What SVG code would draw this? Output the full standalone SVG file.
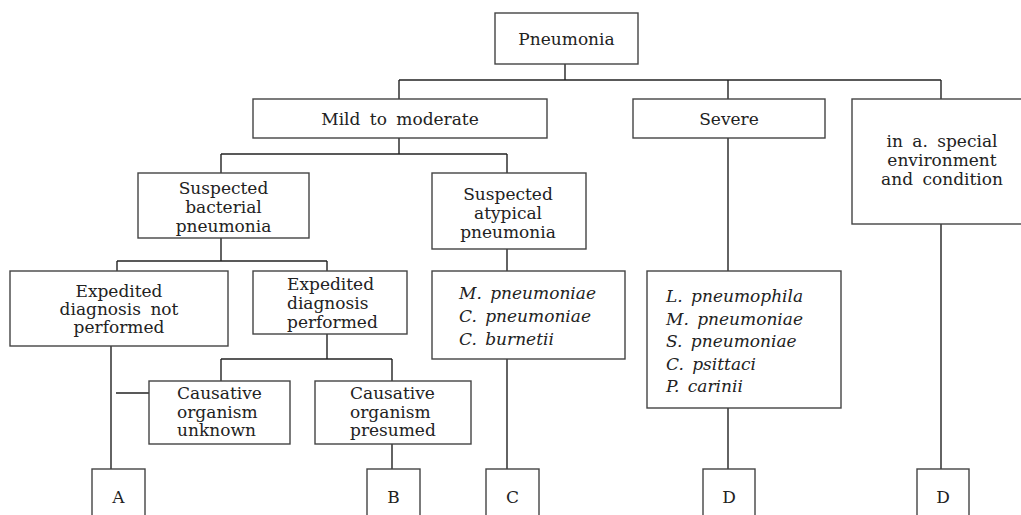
<svg xmlns="http://www.w3.org/2000/svg" width="1021" height="515" viewBox="0 0 1021 515">
<style>
rect{fill:#fff;stroke:#444;stroke-width:1.4}
.c line{stroke:#222;stroke-width:1.4}
text{font-family:"DejaVu Serif","Liberation Serif",serif;font-size:17px;fill:#222;word-spacing:4px}
.m{text-anchor:middle}
.i{font-style:italic;word-spacing:3px}
</style>
<rect x="-1" y="-1" width="1023" height="517" style="stroke:none;fill:#fff"/>
<g class="c">
<line x1="565" y1="64" x2="565" y2="80"/>
<line x1="399" y1="80" x2="941" y2="80"/>
<line x1="399" y1="80" x2="399" y2="99"/>
<line x1="728" y1="80" x2="728" y2="99"/>
<line x1="941" y1="80" x2="941" y2="99"/>
<line x1="399" y1="138" x2="399" y2="154"/>
<line x1="221" y1="154" x2="507" y2="154"/>
<line x1="221" y1="154" x2="221" y2="173"/>
<line x1="507" y1="154" x2="507" y2="173"/>
<line x1="221" y1="238" x2="221" y2="261"/>
<line x1="117" y1="261" x2="327" y2="261"/>
<line x1="117" y1="261" x2="117" y2="271"/>
<line x1="327" y1="261" x2="327" y2="271"/>
<line x1="327" y1="334" x2="327" y2="359"/>
<line x1="221" y1="359" x2="392" y2="359"/>
<line x1="221" y1="359" x2="221" y2="381"/>
<line x1="392" y1="359" x2="392" y2="381"/>
<line x1="111" y1="346" x2="111" y2="469"/>
<line x1="116" y1="393" x2="149" y2="393"/>
<line x1="392" y1="444" x2="392" y2="469"/>
<line x1="507" y1="249" x2="507" y2="271"/>
<line x1="507" y1="359" x2="507" y2="469"/>
<line x1="728" y1="138" x2="728" y2="271"/>
<line x1="728" y1="408" x2="728" y2="469"/>
<line x1="941" y1="224" x2="941" y2="469"/>
</g>
<g id="pneumonia"><rect x="495" y="13" width="143" height="51"/><text class="m" x="566.5" y="45">Pneumonia</text></g>
<g id="mild"><rect x="253" y="99" width="294" height="39"/><text class="m" x="400" y="125">Mild to moderate</text></g>
<g id="severe"><rect x="633" y="99" width="192" height="39"/><text class="m" x="729" y="125">Severe</text></g>
<g id="special"><rect x="852" y="99" width="178" height="125"/><text class="m" x="942"><tspan x="942" y="147">in a. special</tspan><tspan x="942" y="166">environment</tspan><tspan x="942" y="185">and condition</tspan></text></g>
<g id="bacterial"><rect x="138" y="173" width="171" height="65"/><text class="m"><tspan x="223.5" y="194">Suspected</tspan><tspan x="223.5" y="213">bacterial</tspan><tspan x="223.5" y="232">pneumonia</tspan></text></g>
<g id="atypical"><rect x="432" y="173" width="154" height="76"/><text class="m"><tspan x="508" y="200">Suspected</tspan><tspan x="508" y="219">atypical</tspan><tspan x="508" y="238">pneumonia</tspan></text></g>
<g id="notperformed"><rect x="10" y="271" width="218" height="75"/><text class="m"><tspan x="119" y="297">Expedited</tspan><tspan x="119" y="315">diagnosis not</tspan><tspan x="119" y="333">performed</tspan></text></g>
<g id="performed"><rect x="253" y="271" width="154" height="63"/><text><tspan x="287" y="290">Expedited</tspan><tspan x="287" y="309">diagnosis</tspan><tspan x="287" y="328">performed</tspan></text></g>
<g id="atypical-organisms"><rect x="432" y="271" width="193" height="88"/><text class="i"><tspan x="459" y="299">M. pneumoniae</tspan><tspan x="459" y="322">C. pneumoniae</tspan><tspan x="459" y="345">C. burnetii</tspan></text></g>
<g id="severe-organisms"><rect x="647" y="271" width="194" height="137"/><text class="i"><tspan x="666" y="302">L. pneumophila</tspan><tspan x="666" y="324.5">M. pneumoniae</tspan><tspan x="666" y="347">S. pneumoniae</tspan><tspan x="666" y="369.5">C. psittaci</tspan><tspan x="666" y="392">P. carinii</tspan></text></g>
<g id="unknown"><rect x="149" y="381" width="141" height="63"/><text><tspan x="177" y="399">Causative</tspan><tspan x="177" y="417.5">organism</tspan><tspan x="177" y="436">unknown</tspan></text></g>
<g id="presumed"><rect x="315" y="381" width="156" height="63"/><text><tspan x="350" y="399">Causative</tspan><tspan x="350" y="417.5">organism</tspan><tspan x="350" y="436">presumed</tspan></text></g>
<g id="A"><rect x="92" y="469" width="53" height="52"/><text class="m" x="118.5" y="503">A</text></g>
<g id="B"><rect x="367" y="469" width="53" height="52"/><text class="m" x="393.5" y="503">B</text></g>
<g id="C"><rect x="486" y="469" width="53" height="52"/><text class="m" x="512.5" y="503">C</text></g>
<g id="D1"><rect x="703" y="469" width="52" height="52"/><text class="m" x="729" y="503">D</text></g>
<g id="D2"><rect x="917" y="469" width="52" height="52"/><text class="m" x="943" y="503">D</text></g>
</svg>
